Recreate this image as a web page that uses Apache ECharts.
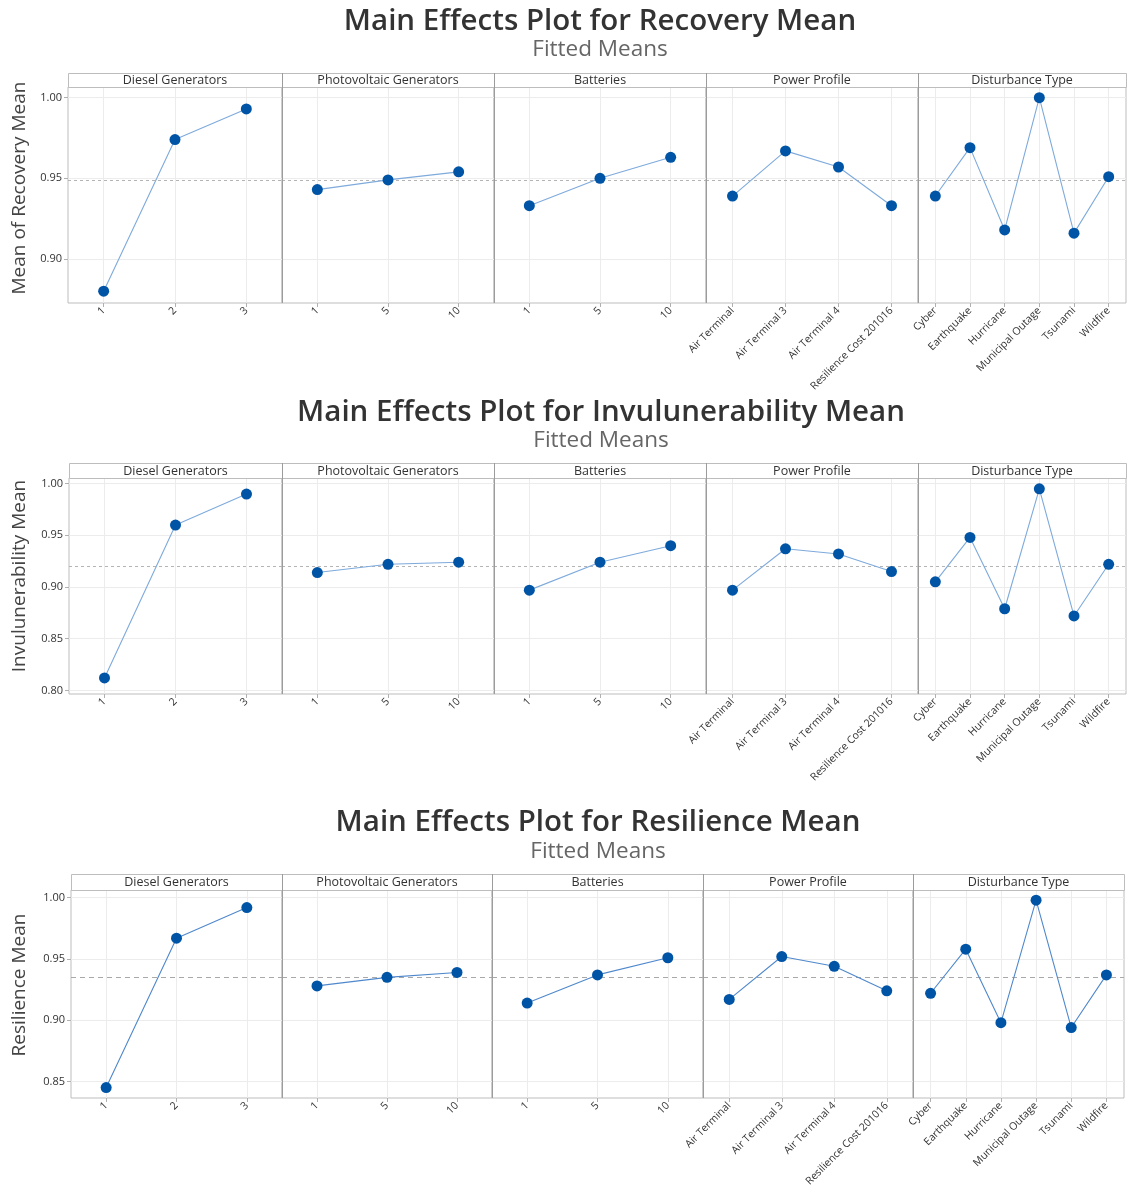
<!DOCTYPE html>
<html><head><meta charset="utf-8">
<script src="https://cdn.jsdelivr.net/npm/echarts@6/dist/echarts.min.js"></script>
<style>html,body{margin:0;padding:0;background:#fff}#c{width:1127px;height:1204px}</style>
</head><body><div id="c"></div><script>
// ---------- data ----------
const factorNames = ['Diesel Generators', 'Photovoltaic Generators', 'Batteries', 'Power Profile', 'Disturbance Type'];
const dieselLevels = ['1', '2', '3'];
const pvLevels = ['1', '5', '10'];
const batteryLevels = ['1', '5', '10'];
const profileLevels = ['Air Terminal', 'Air Terminal 3', 'Air Terminal 4', 'Resilience Cost 201016'];
const disturbanceLevels = ['Cyber', 'Earthquake', 'Hurricane', 'Municipal Outage', 'Tsunami', 'Wildfire'];

const recoveryDiesel = [0.880, 0.974, 0.993];
const recoveryPV = [0.943, 0.949, 0.954];
const recoveryBatteries = [0.933, 0.950, 0.963];
const recoveryProfile = [0.939, 0.967, 0.957, 0.933];
const recoveryDisturbance = [0.939, 0.969, 0.918, 1.000, 0.916, 0.951];
const recoveryMean = 0.949;
const recoveryTicks = [0.90, 0.95, 1.00];

const invDiesel = [0.812, 0.960, 0.990];
const invPV = [0.914, 0.922, 0.924];
const invBatteries = [0.897, 0.924, 0.940];
const invProfile = [0.897, 0.937, 0.932, 0.915];
const invDisturbance = [0.905, 0.948, 0.879, 0.995, 0.872, 0.922];
const invMean = 0.920;
const invTicks = [0.80, 0.85, 0.90, 0.95, 1.00];

const resDiesel = [0.845, 0.967, 0.992];
const resPV = [0.928, 0.935, 0.939];
const resBatteries = [0.914, 0.937, 0.951];
const resProfile = [0.917, 0.952, 0.944, 0.924];
const resDisturbance = [0.922, 0.958, 0.898, 0.998, 0.894, 0.937];
const resMean = 0.935;
const resTicks = [0.85, 0.90, 0.95, 1.00];

// ---------- assembly ----------
const factorLevels = [dieselLevels, pvLevels, batteryLevels, profileLevels, disturbanceLevels];
const FONT = '"Open Sans", "Noto Sans", sans-serif';

const charts = [
  { title: 'Main Effects Plot for Recovery Mean', sub: 'Fitted Means', yName: 'Mean of Recovery Mean',
    values: [recoveryDiesel, recoveryPV, recoveryBatteries, recoveryProfile, recoveryDisturbance],
    mean: recoveryMean, ticks: recoveryTicks,
    lay: { titleY: 22, subY: 50, cx: 600, edges: [68, 282, 494, 706, 918, 1126], stripTop: 73, stripBot: 87, plotBot: 303,
           yMin: 0.8727, yMax: 1.0066, yNameX: 20, yNameY: 188, lineColor: '#7eaadc', meanColor: '#b4b4b4', meanDash: [3, 3] } },
  { title: 'Main Effects Plot for Invulunerability Mean', sub: 'Fitted Means', yName: 'Invulunerability Mean',
    values: [invDiesel, invPV, invBatteries, invProfile, invDisturbance],
    mean: invMean, ticks: invTicks,
    lay: { titleY: 413, subY: 441, cx: 601, edges: [69, 282, 494, 706, 918, 1126], stripTop: 463, stripBot: 478, plotBot: 694,
           yMin: 0.7965, yMax: 1.0055, yNameX: 20, yNameY: 576, lineColor: '#7eaadc', meanColor: '#b4b4b4', meanDash: [3, 3] } },
  { title: 'Main Effects Plot for Resilience Mean', sub: 'Fitted Means', yName: 'Resilience Mean',
    values: [resDiesel, resPV, resBatteries, resProfile, resDisturbance],
    mean: resMean, ticks: resTicks,
    lay: { titleY: 823, subY: 852, cx: 598, edges: [71, 282, 492, 703, 913, 1124], stripTop: 874, stripBot: 890, plotBot: 1098,
           yMin: 0.8365, yMax: 1.0063, yNameX: 20, yNameY: 985, lineColor: '#4f88cc', meanColor: '#a8a8a8', meanDash: [5, 4] } }
];

const grids = [], xAxes = [], yAxes = [], series = [], graphics = [];

charts.forEach((ch) => {
  const L = ch.lay;
  graphics.push({ type: 'text', z: 20, style: { text: ch.title, x: L.cx, y: L.titleY, align: 'center', verticalAlign: 'middle',
    font: '600 29.5px ' + FONT, fill: '#333' } });
  graphics.push({ type: 'text', z: 20, style: { text: ch.sub, x: L.cx, y: L.subY, align: 'center', verticalAlign: 'middle',
    font: '400 22.5px ' + FONT, fill: '#666' } });
  graphics.push({ type: 'text', z: 20, rotation: Math.PI / 2, x: L.yNameX, y: L.yNameY,
    style: { text: ch.yName, x: 0, y: 0, align: 'center', verticalAlign: 'middle', font: '400 19px ' + FONT, fill: '#444' } });

  factorNames.forEach((fname, pi) => {
    const x0 = L.edges[pi], x1 = L.edges[pi + 1];
    const gi = grids.length;
    const cats = factorLevels[pi];
    const idx = cats.map((_, i) => i);
    grids.push({ left: x0, top: L.stripBot, width: x1 - x0, height: L.plotBot - L.stripBot,
      show: true, borderColor: '#bdbdbd', borderWidth: 1, backgroundColor: 'transparent' });
    xAxes.push({ type: 'value', gridIndex: gi, min: -0.5, max: cats.length - 0.5,
      axisLine: { show: false, onZero: false },
      axisTick: { show: true, customValues: idx, length: 4, lineStyle: { color: '#b0b0b0' } },
      axisLabel: { customValues: idx, formatter: (v) => cats[Math.round(v)], rotate: 45, fontSize: 10.5,
        color: '#333', margin: 6, fontFamily: FONT },
      splitLine: { show: true, lineStyle: { color: '#ececec' } } });
    yAxes.push({ type: 'value', gridIndex: gi, min: L.yMin, max: L.yMax,
      axisLine: { show: false, onZero: false },
      axisTick: { show: pi === 0, customValues: ch.ticks, length: 4, lineStyle: { color: '#b0b0b0' } },
      axisLabel: { show: pi === 0, customValues: ch.ticks, formatter: (v) => v.toFixed(2), fontSize: 11,
        color: '#333', margin: 6, fontFamily: FONT },
      splitLine: { show: true, lineStyle: { color: '#ececec' } } });
    series.push({ type: 'line', xAxisIndex: gi, yAxisIndex: gi,
      data: ch.values[pi].map((v, i) => [i, v]),
      symbol: 'circle', symbolSize: 11, showSymbol: true,
      itemStyle: { color: '#0054a6' },
      lineStyle: { color: L.lineColor, width: 1.1 },
      z: 5,
      markLine: { silent: true, symbol: 'none', precision: 6, label: { show: false },
        lineStyle: { type: L.meanDash, color: L.meanColor, width: 1 },
        data: [{ yAxis: ch.mean }] } });
    // strip header
    graphics.push({ type: 'rect', z: 10, shape: { x: x0 + 0.5, y: L.stripTop + 0.5, width: x1 - x0, height: L.stripBot - L.stripTop },
      style: { fill: '#fff', stroke: '#bdbdbd', lineWidth: 1 } });
    graphics.push({ type: 'text', z: 11, style: { text: fname, x: (x0 + x1) / 2, y: (L.stripTop + L.stripBot) / 2 + 0.5,
      align: 'center', verticalAlign: 'middle', font: '400 12.5px ' + FONT, fill: '#333' } });
    if (pi > 0) {
      graphics.push({ type: 'line', z: 12, shape: { x1: x0 + 0.5, y1: L.stripTop, x2: x0 + 0.5, y2: L.plotBot },
        style: { stroke: '#9c9c9c', lineWidth: 1 } });
    }
  });
});

const chart = echarts.init(document.getElementById('c'), null, { renderer: 'canvas' });
chart.setOption({
  animation: false,
  backgroundColor: '#fff',
  grid: grids,
  xAxis: xAxes,
  yAxis: yAxes,
  series: series,
  graphic: graphics
});
</script></body></html>
